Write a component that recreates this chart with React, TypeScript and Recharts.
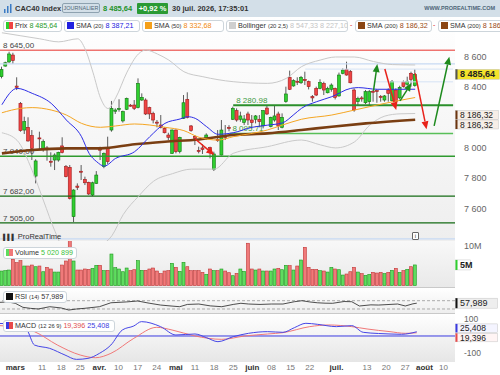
import React from "react";
import { ComposedChart, Bar, Line, XAxis, YAxis, ReferenceLine } from "recharts";

// CAC40 daily, 24 févr. -> 30 juil. (110 sessions) + 10 empty slots on the right
const opens = [8470,8540,8567,8613,8408,8294,8118,8136,8081,7814,
  8066,7990,8000,7912,7920,7920,8013,7876,7872,7546,
  7748,7846,7792,7773,7689,7766,8004,7876,7997,8118,
  8242,8254,8178,8255,8282,8283,8266,8316,8316,8266,
  8228,8170,8151,8129,8085,7964,8118,7975,8195,8320,
  8145,8074,7983,8000,8063,8002,7859,8056,7953,8078,
  8135,8189,8246,8189,8169,8224,8184,8189,8189,8145,
  8263,8140,8184,8224,8136,8305,8466,8409,8440,8430,
  8452,8437,8338,8393,8393,8426,8364,8387,8393,8343,
  8492,8519,8503,8382,8305,8330,8298,8305,8374,8378,
  8340,8316,8382,8312,8382,8330,8435,8420,8492,8411];
const highs = [8536,8569,8635,8628,8466,8303,8206,8202,8118,7925,
  8107,8056,8012,7971,7964,7975,8070,7887,7887,7727,
  7766,7887,7810,7777,7777,7847,8008,7970,8074,8310,
  8261,8321,8246,8332,8290,8316,8459,8360,8327,8272,
  8239,8184,8217,8136,8100,8122,8122,8074,8349,8367,
  8151,8085,8008,8025,8096,8008,7975,8118,8184,8151,
  8150,8272,8261,8239,8217,8239,8217,8217,8217,8250,
  8283,8206,8283,8239,8228,8404,8510,8453,8466,8475,
  8503,8444,8349,8404,8453,8437,8404,8426,8398,8497,
  8525,8569,8514,8393,8338,8342,8382,8382,8382,8387,
  8349,8349,8393,8448,8393,8410,8445,8470,8503,8519];
const lows = [8459,8536,8562,8554,8382,8107,8092,8041,7920,7766,
  7986,7975,7916,7876,7854,7909,7964,7806,7660,7511,
  7722,7788,7755,7689,7682,7762,7920,7866,7894,8107,
  8224,8239,8167,8250,8272,8250,8261,8310,8217,8191,
  8162,8136,8129,8096,8052,7960,7964,7964,8191,8195,
  8107,8019,7964,7960,8052,7931,7848,8040,7950,8052,
  8110,8184,8173,8173,8151,8151,8129,8162,8136,8129,
  8217,8136,8173,8118,8129,8298,8382,8404,8415,8422,
  8415,8386,8305,8342,8387,8349,8360,8371,8320,8338,
  8486,8477,8426,8239,8283,8305,8290,8283,8305,8298,
  8305,8305,8305,8305,8290,8320,8398,8410,8404,8404];
const closes = [8518,8562,8620,8576,8400,8114,8173,8046,7997,7914,
  8060,8041,7994,7906,7953,7971,7969,7810,7667,7722,
  7740,7840,7770,7696,7770,7821,7985,7964,7909,8261,
  8250,8260,8239,8327,8276,8261,8426,8334,8224,8224,
  8184,8164,8136,8100,8070,8118,7975,8070,8298,8202,
  8114,8063,7978,7990,8085,7975,7960,8048,8118,8070,
  8128,8261,8184,8211,8191,8184,8167,8211,8173,8246,
  8224,8202,8211,8145,8202,8356,8387,8444,8434,8466,
  8444,8404,8330,8349,8431,8382,8393,8415,8334,8481,
  8514,8481,8430,8250,8327,8324,8371,8371,8368,8372,
  8336,8343,8360,8437,8305,8400,8405,8440,8452,8485.64];
// millions
const volumes = [3.54,3.62,3.78,6.38,5.57,6.06,4.76,4.76,5.0,4.59,
  4.76,3.37,4.43,4.03,3.29,3.29,5.0,5.98,11.5,5.98,
  3.78,3.78,4.03,3.94,4.19,4.92,4.92,3.62,3.70,7.68,
  4.35,4.03,3.37,4.27,3.62,3.86,6.06,3.70,3.70,4.03,
  4.27,3.54,2.89,3.54,3.62,5.41,4.43,3.45,5.65,4.59,
  3.62,3.62,3.62,3.21,2.73,4.03,3.62,3.62,4.03,3.54,
  3.13,2.40,2.97,4.03,3.45,10.3,4.03,3.78,4.03,3.54,
  3.54,3.54,4.03,4.19,3.86,4.92,4.84,3.78,4.76,6.22,
  9.31,4.43,3.94,3.94,3.62,3.54,3.29,4.43,4.03,3.86,
  2.56,2.81,3.37,4.43,3.29,2.89,2.48,2.73,3.21,3.05,
  3.21,2.89,3.21,3.70,4.19,3.21,3.62,3.94,4.59,5.02];

// indicator lines, read as [session, value]
const sma20Pts: [number, number][] = [[0,8285],[4,8393],[8,8360],[13,8294],[17,8184],[21,8074],[23,7964],[25,7909],[27,7880],[30,7931],[35,7975],[39,8074],[43,8162],[47,8191],[49,8206],[51,8195],[54,8140],[57,8090],[61,8100],[66,8136],[70,8150],[74,8165],[77,8220],[79,8261],[83,8305],[87,8338],[92,8393],[94,8398],[99,8387],[105,8387],[109,8387.21]];
const sma50Pts: [number, number][] = [[0,8232],[5,8261],[8,8266],[13,8250],[17,8217],[21,8162],[26,8136],[30,8145],[35,8158],[39,8151],[43,8136],[48,8114],[52,8070],[57,8052],[61,8074],[70,8118],[74,8151],[79,8189],[87,8217],[93,8250],[101,8294],[109,8332.68]];
const sma200Pts: [number, number][] = [[0,7964],[8,7986],[17,7997],[26,7997],[35,8024],[43,8041],[52,8056],[61,8085],[70,8096],[79,8118],[87,8140],[96,8162],[109,8186.32]];
const bollUpPts: [number, number][] = [[0,8760],[5,8740],[10,8720],[15,8700],[20,8720],[22,8650],[24,8500],[26,8330],[28,8260],[30,8330],[33,8500],[36,8620],[38,8646],[41,8620],[44,8580],[48,8503],[53,8470],[61,8437],[70,8426],[75,8459],[79,8536],[84,8580],[88,8600],[93,8600],[98,8570],[103,8550],[109,8547.33]];
const bollLowPts: [number, number][] = [[0,8100],[4,8050],[8,7850],[11,7650],[14,7450],[17,7300],[22,7250],[26,7350],[29,7420],[32,7560],[36,7680],[40,7780],[45,7830],[50,7860],[56,7860],[61,7964],[70,8008],[79,8052],[84,8020],[88,8000],[93,8040],[97,8150],[101,8210],[105,8225],[109,8227.10]];
const rsiPts: [number, number][] = [[0,62],[2,64],[4,57.5],[6,38],[8,33],[10,30],[13,41],[16,35],[18,25],[20,30],[22,33],[26,41],[29,60],[33,64],[36,68.5],[39,58],[42,49],[45,44],[47,41],[49,52],[52,54],[55,45],[58,41],[61,52],[63,57.5],[65,54],[68,52],[71,54],[74,54],[77,65],[79,70],[81,64],[83,60],[85,58],[87,57.5],[90,66],[92,65],[94,44.5],[97,50],[99,49],[102,52],[104,54],[106,44.5],[108,55],[109,57.989]];
const macdPts: [number, number][] = [[0,75],[3,72],[7,36],[9,-54],[13,-74],[17,-114],[20,-140],[23,-134],[26,-104],[29,-54],[32,36],[35,60],[37,86],[42,56],[46,6],[51,12],[54,-10],[57,-34],[61,-4],[65,16],[70,26],[74,22],[77,50],[80,76],[83,70],[88,56],[92,62],[95,22],[99,15],[102,12],[105,10],[109,25.408]];
const signalPts: [number, number][] = [[0,62],[5,50],[9,26],[15,-54],[21,-114],[25,-130],[29,-104],[35,-14],[41,52],[45,36],[51,0],[58,-20],[64,0],[70,12],[74,20],[81,56],[86,66],[92,56],[96,42],[102,26],[106,16],[109,19.396]];

const tickIdx = [4, 11, 16, 21, 26, 31, 36, 41, 46, 51, 56, 61, 66, 71, 76, 81, 88, 96, 101, 106, 111, 116];
const tickLabels = ["mars", "11", "18", "25", "avr.", "10", "17", "24", "mai", "11", "18", "25", "juin", "08", "15", "22", "juil.", "13", "20", "27", "août", "10"];
const monthNames = ["mars", "avr.", "mai", "juin", "juil.", "août"];

// horizontal levels drawn on the price chart
const levelValues = [8645, 7945, 7682, 7505];
const levelLabels = ["8 645,00", "7 940,00", "7 682,00", "7 505,00"];
const supportValues = [8280.98, 8095.71];
const supportLabels = ["8 280.98", "8 095.71"];
const supportStart = [61, 60];
const faintValues = [8520, 8436];
const faintStart = [80, 98];
// arrows: [session, price] -> [session, price]
const arrowFrom: [number, number][] = [[51, 8059], [98, 8376], [101, 8521], [105, 8310], [109, 8492], [114, 8145]];
const arrowTo: [number, number][] = [[56, 7953], [99, 8554], [104, 8250], [108, 8428], [112, 8123], [118, 8602]];
const arrowUp = [false, true, false, true, false, true];

const N = 120;
const FONT = '"Liberation Sans", Arial, sans-serif';

const toMap = (pts: [number, number][]) => {
  const m: Record<number, number> = {};
  pts.forEach(([i, v]) => (m[i] = v));
  return m;
};
const m20 = toMap(sma20Pts), m50 = toMap(sma50Pts), m200 = toMap(sma200Pts);
const mbu = toMap(bollUpPts), mbl = toMap(bollLowPts);
const mrsi = toMap(rsiPts), mmacd = toMap(macdPts), msig = toMap(signalPts);

const rows = Array.from({ length: N }, (_, i) => {
  const has = i < closes.length;
  return {
    i,
    range: has ? [lows[i], highs[i]] : null,
    o: has ? opens[i] : null,
    c: has ? closes[i] : null,
    h: has ? highs[i] : null,
    l: has ? lows[i] : null,
    vol: has ? volumes[i] : null,
    sma20: m20[i], sma50: m50[i], sma200: m200[i],
    bu: mbu[i], bl: mbl[i],
    rsi: mrsi[i], macd: mmacd[i], sig: msig[i],
  };
});

const fmt = (v: number, d = 0) =>
  v.toFixed(d).replace(".", ",").replace(/\B(?=(\d{3})+(?!\d))/, " ");

const Candle = (p: any) => {
  const { x, y, width, height, payload } = p;
  if (!payload || payload.o == null || !isFinite(y)) return <g />;
  const { o, c, h, l } = payload;
  const top = Math.min(y, y + height), bot = Math.max(y, y + height);
  const k = h > l ? (bot - top) / (h - l) : 0;
  const up = c >= o;
  const bt = top + (h - Math.max(o, c)) * k;
  const bh = Math.max(1, Math.abs(o - c) * k);
  const cx = x + width / 2;
  return (
    <g>
      <line x1={cx} x2={cx} y1={top} y2={bot} stroke="#333" strokeWidth={0.8} />
      <rect x={x} y={bt} width={width} height={bh} fill={up ? "#2fcf2f" : "#ef4444"} stroke={up ? "#127512" : "#9e1b1b"} strokeWidth={0.6} />
    </g>
  );
};

const VolBar = (p: any) => {
  const { x, y, width, height, payload } = p;
  if (!payload || payload.vol == null || !isFinite(y)) return <g />;
  const up = payload.c >= payload.o;
  return <rect x={x} y={y} width={width} height={Math.max(0, height)} fill={up ? "#5fdc5f" : "#f07a7a"} stroke={up ? "#1f9a1f" : "#c03535"} strokeWidth={0.6} />;
};

const arrowShape = (color: string, w: number) => (p: any) => {
  const { x1, y1, x2, y2 } = p;
  const a = Math.atan2(y2 - y1, x2 - x1);
  const L = 8, H = 3.5;
  const bx = x2 - L * Math.cos(a), by = y2 - L * Math.sin(a);
  const px = -Math.sin(a) * H, py = Math.cos(a) * H;
  return (
    <g>
      <line x1={x1} y1={y1} x2={bx} y2={by} stroke={color} strokeWidth={w} />
      <polygon points={`${x2},${y2} ${bx + px},${by + py} ${bx - px},${by - py}`} fill={color} />
    </g>
  );
};

const leftLabel = (text: string, color: string, dx = 3) => (p: any) => {
  const vb = p.viewBox;
  if (!vb) return null;
  return <text x={vb.x + dx} y={vb.y - 2} fontSize={8} fill={color} fontFamily={FONT}>{text}</text>;
};

const tag = (text: string, bg: string, mark: string, dy = 0, bold = false, w = 43, hgt = 10) => (p: any) => {
  const vb = p.viewBox;
  if (!vb) return null;
  const x = vb.x + vb.width;
  const cy = vb.y + dy;
  return (
    <g>
      <rect x={x + 0.5} y={cy - hgt / 2} width={w} height={hgt} fill={bg} stroke="#c4c4c4" strokeWidth={0.5} />
      <rect x={x + 0.5} y={cy - hgt / 2} width={2} height={hgt} fill={mark} />
      <text x={x + 5} y={cy + 3.1} fontSize={hgt < 10 ? 8.5 : 9} fontWeight={bold ? 700 : 400} fill="#222" fontFamily={FONT}>{text}</text>
    </g>
  );
};

const XTick = (p: any) => {
  const { x, y, payload } = p;
  const lab = tickLabels[tickIdx.indexOf(payload.value)];
  const month = monthNames.includes(lab);
  return (
    <text x={x} y={y + 7.5} textAnchor="middle" fontSize={8} fontWeight={month ? 700 : 400} fill={month ? "#333" : "#777"} fontFamily={FONT}>
      {lab}
    </text>
  );
};

const M = { top: 0, right: 0, bottom: 0, left: 0 };
const yTick = { fontSize: 9, fill: "#666", fontFamily: FONT };
const yTickSmall = { fontSize: 8.5, fill: "#666", fontFamily: FONT };

const Sq = ({ a, b }: { a: string; b?: string }) => (
  <span style={{ display: "inline-block", width: 7, height: 7, background: b ? `linear-gradient(90deg, ${a} 50%, ${b} 50%)` : a, marginRight: 2, verticalAlign: "-1px" }} />
);

const boxStyle = (left: number, top: number, width: number): React.CSSProperties => ({
  position: "absolute", left, top, width, height: 12, background: "rgba(255,255,255,0.95)", border: "1px solid #cdd5db",
  borderRadius: 3, boxSizing: "border-box", fontSize: 7.2, lineHeight: "10px", padding: "0 2px", whiteSpace: "nowrap", overflow: "hidden", color: "#333",
});
const small = { fontSize: 5.8 };

const bg = (top: number, height: number, from: string, to: string): React.CSSProperties => ({
  position: "absolute", left: 0, top, width: 455, height, background: `linear-gradient(${from}, ${to})`,
});

export default function App() {
  return (
    <div style={{ position: "fixed", left: 0, top: 0, width: 500, height: 375, background: "#fff", fontFamily: FONT, overflow: "hidden" }}>
      <style>{".recharts-surface{overflow:visible}"}</style>
      <div style={bg(17, 224, "#ffffff", "#eeeeee")} />
      <div style={bg(241, 46, "#f8f8f8", "#e9e9e9")} />
      <div style={bg(288, 25, "#ffffff", "#eeeeee")} />
      <div style={bg(313, 49, "#ffffff", "#e6e6e6")} />
      <div style={{ position: "absolute", left: 0, top: 287, width: 455, height: 1, background: "#c9c9c9" }} />
      <div style={{ position: "absolute", left: 0, top: 313, width: 455, height: 1, background: "#c9c9c9" }} />

      {/* price */}
      <div style={{ position: "absolute", left: 0, top: 17 }}>
        <ComposedChart width={500} height={224} data={rows} margin={M} barSize={3}>
          <XAxis dataKey="i" hide />
          <YAxis orientation="right" width={45} domain={[7385.6, 8864]} allowDataOverflow ticks={[7400, 7600, 7800, 8000, 8400, 8600]}
            tickFormatter={(v: number) => fmt(v)} tick={yTick} axisLine={false} tickLine={false} tickMargin={3} />
          <ReferenceLine y={8554} stroke="#c7daf3" strokeWidth={1.2} />
          <ReferenceLine y={7400} stroke="#c7daf3" strokeWidth={1.2} />
          {faintValues.map((v, k) => (
            <ReferenceLine key={"fv" + k} segment={[{ x: faintStart[k], y: v }, { x: N - 1, y: v }]} stroke="#d5e3f5" strokeWidth={1} />
          ))}
          {levelValues.map((v, k) => (
            <ReferenceLine key={"lv" + k} y={v} stroke={k === 0 ? "#e8322b" : k === 1 ? "#2f9a2f" : "#146b14"} strokeWidth={k === 0 ? 1 : 1.4}
              label={leftLabel(levelLabels[k], "#444")} />
          ))}
          {supportValues.map((v, k) => (
            <ReferenceLine key={"sp" + k} segment={[{ x: supportStart[k], y: v }, { x: N - 1, y: v }]}
              stroke={k === 0 ? "#2b8f2b" : "#58bf58"} strokeWidth={k === 0 ? 2 : 1.5} label={leftLabel(supportLabels[k], "#3f9a3f", 3)} />
          ))}
          <Line dataKey="bu" stroke="#c9c9c9" strokeWidth={1} dot={false} connectNulls type="monotone" isAnimationActive={false} />
          <Line dataKey="bl" stroke="#c9c9c9" strokeWidth={1} dot={false} connectNulls type="monotone" isAnimationActive={false} />
          <Bar dataKey="range" shape={Candle} isAnimationActive={false} />
          <Line dataKey="sma200" stroke="#7a3e12" strokeWidth={2.6} dot={false} connectNulls type="monotone" isAnimationActive={false} />
          <Line dataKey="sma50" stroke="#f5a623" strokeWidth={1} dot={false} connectNulls type="monotone" isAnimationActive={false} />
          <Line dataKey="sma20" stroke="#2d2de6" strokeWidth={1} dot={false} connectNulls type="monotone" isAnimationActive={false} />
          {arrowFrom.map((f, k) => (
            <ReferenceLine key={"ar" + k} segment={[{ x: f[0], y: f[1] }, { x: arrowTo[k][0], y: arrowTo[k][1] }]}
              shape={arrowShape(arrowUp[k] ? "#1d8a1d" : "#e8221a", 1.5)} />
          ))}
          <ReferenceLine y={closes[closes.length - 1]} stroke="none" label={tag("8 485,64", "#f3e32b", "#555", 0, true, 44)} />
          <ReferenceLine y={8186.32} stroke="none" label={tag("8 186,32", "#f6eee7", "#6b3510", -4.6, false, 43, 9)} />
          <ReferenceLine y={8186.32} stroke="none" label={tag("8 186,32", "#f6eee7", "#6b3510", 4.8, false, 43, 9)} />
        </ComposedChart>
      </div>

      {/* volume */}
      <div style={{ position: "absolute", left: 0, top: 241 }}>
        <ComposedChart width={500} height={46} data={rows} margin={M} barSize={3}>
          <XAxis dataKey="i" hide />
          <YAxis orientation="right" width={45} domain={[-0.35, 10.85]} allowDataOverflow ticks={[0, 10]}
            tickFormatter={(v: number) => (v === 0 ? "0" : "10M")} tick={yTick} axisLine={false} tickLine={false} tickMargin={3} />
          <Bar dataKey="vol" shape={VolBar} isAnimationActive={false} />
          <ReferenceLine y={volumes[volumes.length - 1]} stroke="none" label={tag("5M", "#fff", "#2fcf2f", 0, true, 15)} />
        </ComposedChart>
      </div>

      {/* RSI */}
      <div style={{ position: "absolute", left: 0, top: 288 }}>
        <ComposedChart width={500} height={25} data={rows} margin={M}>
          <XAxis dataKey="i" hide />
          <YAxis orientation="right" width={45} domain={[10.7, 131.2]} allowDataOverflow ticks={[100]}
            tick={yTickSmall} axisLine={false} tickLine={false} tickMargin={3} />
          <ReferenceLine y={70} stroke="#aaa" strokeDasharray="3 2" />
          <ReferenceLine y={30} stroke="#aaa" strokeDasharray="3 2" />
          <Line dataKey="rsi" stroke="#222" strokeWidth={0.8} dot={false} connectNulls isAnimationActive={false} />
          <ReferenceLine y={57.989} stroke="none" label={tag("57,989", "#eeeeee", "#111", 0, false, 42)} />
        </ComposedChart>
      </div>

      {/* MACD */}
      <div style={{ position: "absolute", left: 0, top: 313 }}>
        <ComposedChart width={500} height={62} data={rows} margin={M}>
          <XAxis dataKey="i" height={13} ticks={tickIdx} interval={0} tick={XTick} axisLine={false} tickLine={false} tickSize={0} tickMargin={0} />
          <YAxis orientation="right" width={45} domain={[-155.7, 137.7]} allowDataOverflow ticks={[-100, 100]}
            tick={yTickSmall} axisLine={false} tickLine={false} tickMargin={3} />
          <ReferenceLine y={0} stroke="#3a3ae0" strokeWidth={1} />
          <Line dataKey="sig" stroke="#f07878" strokeWidth={1} dot={false} connectNulls type="monotone" isAnimationActive={false} />
          <Line dataKey="macd" stroke="#4545e6" strokeWidth={1} dot={false} connectNulls type="monotone" isAnimationActive={false} />
          <ReferenceLine y={25.408} stroke="none" label={tag("25,408", "#f4f4ff", "#3a3ae0", -3.6, false, 42, 8.5)} />
          <ReferenceLine y={19.396} stroke="none" label={tag("19,396", "#fff4f4", "#e84a4a", 4.8, false, 42, 8.5)} />
        </ComposedChart>
      </div>

      {/* header */}
      <div style={{ position: "absolute", left: 0, top: 0, width: 500, height: 17, background: "#d3dfe8", fontSize: 7.5, color: "#333" }}>
        <svg style={{ position: "absolute", left: 4, top: 4 }} width={9} height={9}>
          <rect x={0} y={5} width={1.5} height={4} fill="#3b7bc4" />
          <rect x={3} y={2} width={1.5} height={7} fill="#3b7bc4" />
          <rect x={6} y={0} width={1.5} height={9} fill="#3b7bc4" />
        </svg>
        <span style={{ position: "absolute", left: 15, top: 4, fontWeight: 700 }}>CAC40 Index</span>
        <span style={{ position: "absolute", left: 62, top: 3, height: 10, width: 38, boxSizing: "border-box", border: "1px solid #8ea2b0", borderRadius: 2, fontSize: 5.5, lineHeight: "8px", textAlign: "center", color: "#52697a" }}>JOURNALIER</span>
        <span style={{ position: "absolute", left: 103, top: 4, fontWeight: 700, color: "#23922a" }}>8 485,64</span>
        <span style={{ position: "absolute", left: 137, top: 3, width: 31, height: 11, background: "#2a9a34", color: "#fff", fontWeight: 700, textAlign: "center", lineHeight: "11px", borderRadius: 1 }}>+0,92 %</span>
        <span style={{ position: "absolute", left: 172, top: 4, fontWeight: 700 }}>30 juil. 2026, 17:35:01</span>
        <span style={{ position: "absolute", right: 5, top: 5, fontWeight: 700, fontSize: 5.5, color: "#4d6577" }}>WWW.PROREALTIME.COM</span>
      </div>

      {/* price legend row */}
      <div style={boxStyle(3, 20, 59)}><Sq a="#2fcf2f" b="#ef4444" />Prix <span style={{ color: "#2a9a2a" }}>8 485,64</span></div>
      <div style={boxStyle(64, 20, 76)}><Sq a="#2020e0" />SMA <span style={small}>(20)</span> <span style={{ color: "#2020e0" }}>8 387,21</span></div>
      <div style={boxStyle(142, 20, 82)}><Sq a="#f5a01a" />SMA <span style={small}>(50)</span> <span style={{ color: "#f08a10" }}>8 332,68</span></div>
      <div style={boxStyle(226, 20, 122)}><Sq a="#cfcfcf" />Bollinger <span style={small}>(20 2,5)</span> <span style={{ color: "#c4c4c4" }}>8 547,33 8 227,10</span></div>
      <span style={{ position: "absolute", left: 350, top: 21, fontSize: 7, color: "#d22" }}>-</span>
      <div style={boxStyle(355, 20, 77)}><Sq a="#8b4513" />SMA <span style={small}>(200)</span> <span style={{ color: "#9a4a14" }}>8 186,32</span></div>
      <span style={{ position: "absolute", left: 433, top: 21, fontSize: 7, color: "#d22" }}>-</span>
      <div style={boxStyle(438, 20, 80)}><Sq a="#8b4513" />SMA <span style={small}>(200)</span> <span style={{ color: "#9a4a14" }}>8 186,32</span></div>

      {/* ProRealTime mark */}
      <div style={{ position: "absolute", left: 3, top: 232, fontSize: 7.5, color: "#333" }}>
        <span style={{ fontSize: 6, marginRight: 2 }}>▌▌▌</span>ProRealTime
      </div>
      <div style={{ position: "absolute", left: 412, top: 232, width: 7, height: 8, boxSizing: "border-box", border: "1px solid #666", borderRadius: 1, fontSize: 6, lineHeight: "6px", textAlign: "center", color: "#333", background: "#fff" }}>i</div>

      {/* lower panel legends */}
      <div style={boxStyle(3, 247, 74)}><Sq a="#5fdc5f" b="#f07a7a" />Volume <span style={{ color: "#3bbf3b" }}>5 020 899</span></div>
      <div style={boxStyle(3, 291, 64)}><Sq a="#111" />RSI <span style={small}>(14)</span> 57,989</div>
      <div style={boxStyle(3, 320, 112)}><Sq a="#3a3ae0" b="#e84a4a" />MACD <span style={small}>(12 26 9)</span> <span style={{ color: "#e05050" }}>19,396</span> <span style={{ color: "#3a3ae0" }}>25,408</span></div>
    </div>
  );
}
